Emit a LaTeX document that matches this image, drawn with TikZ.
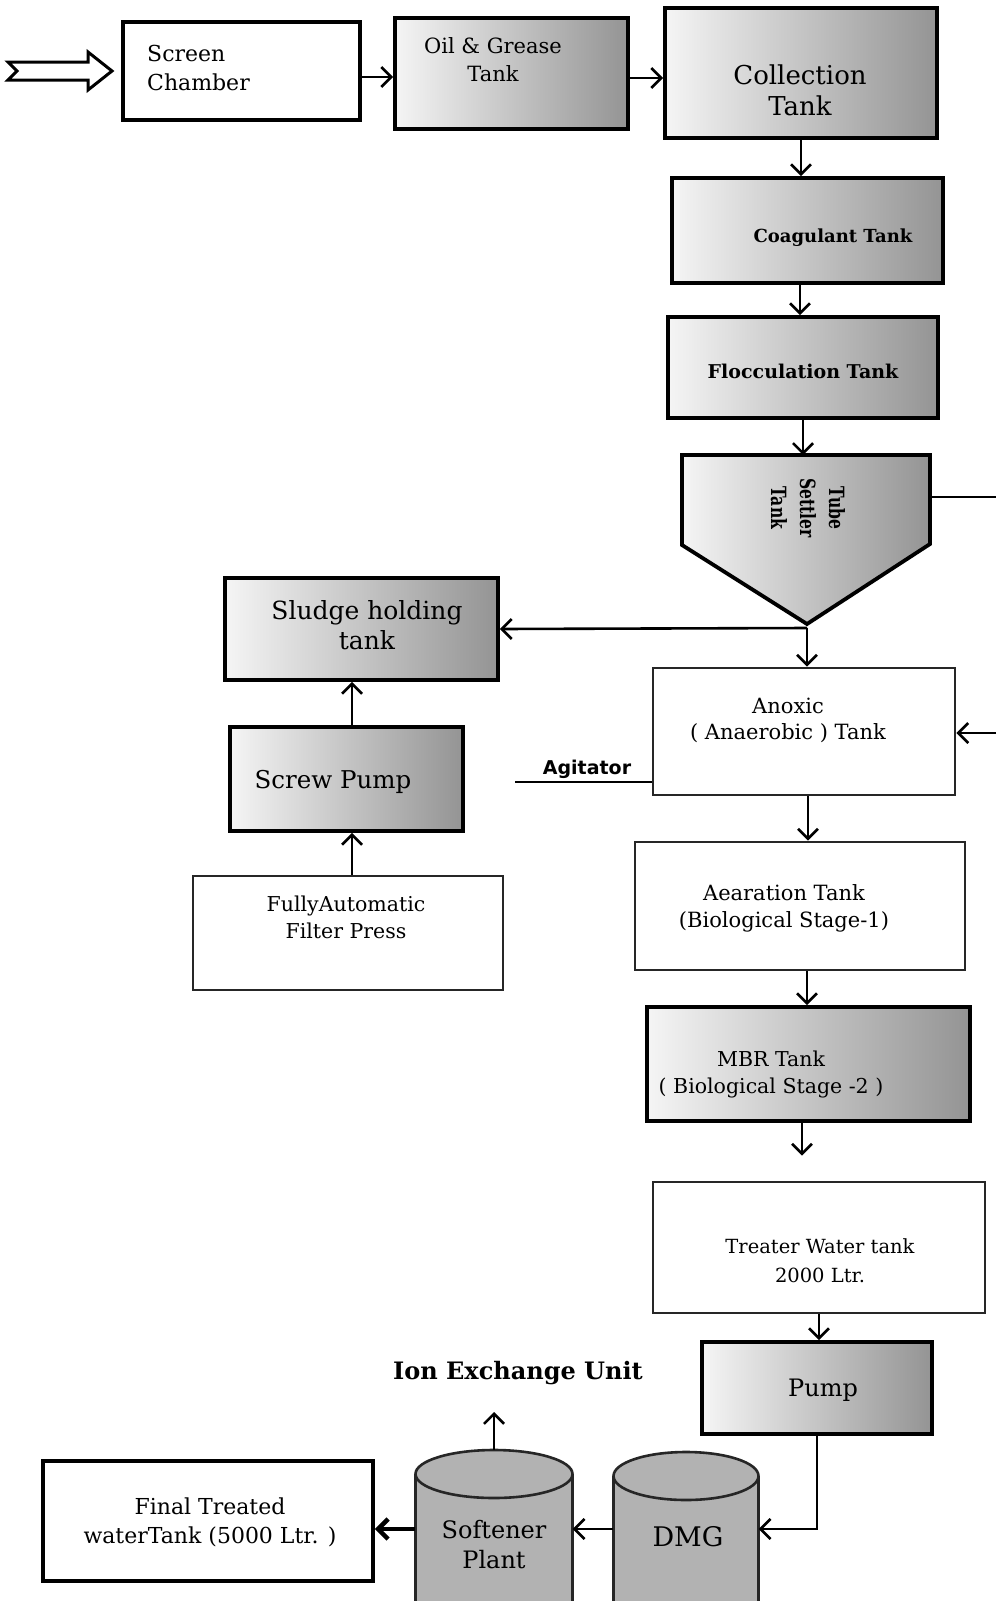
\documentclass[tikz,border=0pt]{standalone}
\usepackage{fontspec}
\usepackage{graphicx}
\setmainfont{DejaVu Serif}
\newfontfamily\agfont{DejaVu Sans}
\usetikzlibrary{arrows.meta}
\newcommand\fsz[2]{\fontsize{#1}{#2}\selectfont}
\begin{document}
\begin{tikzpicture}[x=1pt,y=-1pt,
  box/.style={rectangle, draw=black, line width=3.8pt, inner sep=0pt},
  wbox/.style={box, draw=black!85, line width=2.8pt, fill=white},
  sbox/.style={box, left color=black!4, right color=black!42},
  lbl/.style={inner sep=0pt, align=center, text=black},
  arr/.style={line width=2.6pt, -{Straight Barb[length=10pt,width=20pt]}},
  conn/.style={line width=2.6pt},
  cyl/.style={fill=black!30, draw=black!85, line width=2.6pt}
]
\useasboundingbox (0,0) rectangle (996,1601);
\fill[white] (0,0) rectangle (996,1601);
\clip (0,0) rectangle (996,1601);

% input arrow
\draw[line width=3pt, fill=white, line join=miter] (8,62) -- (88,62) -- (88,52) -- (112,71) -- (88,90) -- (88,80) -- (8,80) -- (17,71) -- cycle;

% top row
\node[box, line width=4pt, fill=white, minimum width=237pt, minimum height=98pt] (screen) at (241.5,71) {};
\node[lbl, align=left, anchor=west, font=\fsz{22}{29}] (screent) at (147,68) {Screen\\Chamber};
\node[sbox, minimum width=233pt, minimum height=111pt] (oil) at (511.5,73.5) {};
\node[lbl, font=\fsz{21}{28}] (oilt) at (493,60) {Oil \& Grease\\Tank};
\node[sbox, minimum width=272pt, minimum height=130pt] (collect) at (801,73) {};
\node[lbl, font=\fsz{26}{31}] (collectt) at (800,90) {Collection\\Tank};

% right column
\node[sbox, minimum width=271pt, minimum height=105pt] (coag) at (807.5,230.5) {};
\node[lbl, font=\bfseries\fsz{18}{22}] (coagt) at (833,238) {Coagulant Tank};
\node[sbox, minimum width=270pt, minimum height=101pt] (flocc) at (803,367.5) {};
\node[lbl, font=\bfseries\fsz{19}{22}] (flocct) at (803,371) {Flocculation Tank};

% tube settler
\draw[line width=3.8pt, left color=black!4, right color=black!42, line join=miter]
  (682,455) -- (930,455) -- (930,544) -- (807,624) -- (682,545) -- cycle;
\coordinate (tsn) at (803,455);
\coordinate (tsa) at (807,628);
\coordinate (tse) at (930,497);
\coordinate (rt1) at (996,497);
\coordinate (rt2) at (996,733);
\node[lbl, rotate=-90, font=\bfseries\fsz{21}{29}] (tst) at (808,508)
  {\scalebox{0.74}[1]{Tube}\\\scalebox{0.74}[1]{Settler}\\\scalebox{0.74}[1]{Tank}};

\node[wbox, minimum width=302pt, minimum height=127pt] (anoxic) at (804,731.5) {};
\node[lbl, font=\fsz{21}{26}] (anoxict) at (788,720) {Anoxic\\( Anaerobic ) Tank};
\node[wbox, minimum width=330pt, minimum height=128pt] (aer) at (800,906) {};
\node[lbl, font=\fsz{21}{27}] (aert) at (784,908) {Aearation Tank\\(Biological Stage-1)};
\node[sbox, minimum width=323pt, minimum height=114pt] (mbr) at (808.5,1064) {};
\node[lbl, font=\fsz{20.5}{27}] (mbrt) at (771,1074) {MBR Tank\\( Biological Stage -2 )};
\node[wbox, minimum width=332pt, minimum height=131pt] (treater) at (819,1247.5) {};
\node[lbl, font=\fsz{19.5}{29}] (treatert) at (820,1261) {Treater Water tank\\2000 Ltr.};
\node[sbox, minimum width=230pt, minimum height=92pt] (pump) at (817,1388) {};
\node[lbl, font=\fsz{24}{28}] (pumpt) at (823,1390) {Pump};

% left column
\node[sbox, minimum width=273pt, minimum height=102pt] (sludge) at (361.5,629) {};
\node[lbl, font=\fsz{25}{30}] (sludget) at (367,625) {Sludge holding\\tank};
\node[sbox, minimum width=233pt, minimum height=104pt] (screw) at (346.5,779) {};
\node[lbl, font=\fsz{24.5}{28}] (screwt) at (333,782) {Screw Pump};
\node[wbox, minimum width=310pt, minimum height=114pt] (filter) at (348,933) {};
\node[lbl, font=\fsz{20.5}{27}] (filtert) at (346,917) {FullyAutomatic\\Filter Press};
\node[lbl, font=\agfont\bfseries\fsz{19}{22}] (agit) at (587,769) {Agitator};
\coordinate (agl) at (515,782);

% bottom row
\node[inner sep=0pt, minimum width=157pt, minimum height=158pt] (soft) at (494,1529) {};
\fill[black!30] (415.5,1474) rectangle (572.5,1640);
\draw[line width=2.6pt, draw=black!85] (415.5,1474) -- (415.5,1640) (572.5,1474) -- (572.5,1640);
\draw[cyl] (494,1474) ellipse [x radius=78.5, y radius=24];
\node[lbl, font=\fsz{24}{30}] (softt) at (494,1545) {Softener\\Plant};

\node[inner sep=0pt, minimum width=145pt, minimum height=154pt] (dmg) at (686,1529) {};
\fill[black!30] (613.5,1476) rectangle (758.5,1640);
\draw[line width=2.6pt, draw=black!85] (613.5,1476) -- (613.5,1640) (758.5,1476) -- (758.5,1640);
\draw[cyl] (686,1476) ellipse [x radius=72.5, y radius=24];
\node[lbl, font=\fsz{27}{30}] (dmgt) at (688,1537) {DMG};

\node[box, fill=white, minimum width=330pt, minimum height=120pt] (final) at (208,1521) {};
\node[lbl, font=\fsz{22}{29}] (finalt) at (210,1522) {Final Treated\\waterTank (5000 Ltr. )};
\node[lbl, font=\bfseries\fsz{24}{27}] (ion) at (518,1373) {Ion Exchange Unit};

% connectors
\coordinate (c1) at ([yshift=-6pt]screen.east);
\draw[arr] (c1) -- (c1 -| oil.west);
\coordinate (c2) at ([yshift=-4.5pt]oil.east);
\draw[arr] (c2) -- (c2 -| collect.west);
\draw[arr] (collect.south) -- (collect.south |- coag.north);
\coordinate (c4) at ([xshift=-7.5pt]coag.south);
\draw[arr] (c4) -- (c4 |- flocc.north);
\draw[arr] (flocc.south) -- (flocc.south |- tsn);
\draw[arr] (tsa) -- (tsa |- anoxic.north);
\draw[arr] (tsa) -- (sludge.east);
\draw[conn] (tse) -- (rt1);
\draw[arr] (rt2) -- (rt2 -| anoxic.east);
\coordinate (c10) at ([xshift=5.5pt]screw.north);
\draw[arr] (c10) -- (c10 |- sludge.south);
\coordinate (c11) at ([xshift=4pt]filter.north);
\draw[arr] (c11) -- (c11 |- screw.south);
\draw[conn] (agl) -- (agl -| anoxic.west);
\coordinate (c13) at ([xshift=4pt]anoxic.south);
\draw[arr] (c13) -- (c13 |- aer.north);
\coordinate (c14) at ([xshift=7pt]aer.south);
\draw[arr] (c14) -- (c14 |- mbr.north);
\coordinate (c15) at ([xshift=-6.5pt]mbr.south);
\draw[arr, shorten >=25pt] (c15) -- (c15 |- treater.north);
\draw[arr] (treater.south) -- (treater.south |- pump.north);
\draw[arr] (pump.south) |- (dmg.east);
\draw[arr] (dmg.west) -- (soft.east);
\draw[line width=4.5pt, -{Straight Barb[length=10pt,width=20pt]}] (soft.west) -- (soft.west -| final.east);
\draw[arr, shorten >=27pt] (soft.north) -- (soft.north |- ion.south);
\end{tikzpicture}
\end{document}
